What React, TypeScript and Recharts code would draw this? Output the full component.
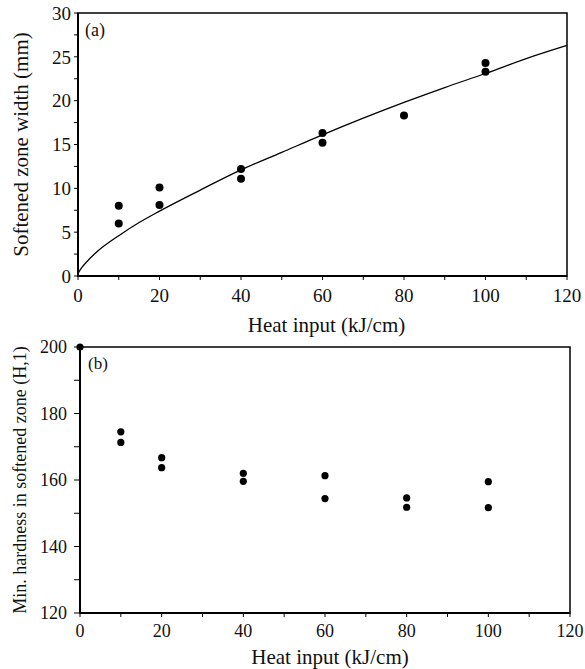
import React from "react";
import {
  ComposedChart,
  ScatterChart,
  Scatter,
  Line,
  XAxis,
  YAxis,
  ReferenceArea,
} from "recharts";

// (a) softened zone width vs heat input
const widthHeat = [10, 10, 20, 20, 40, 40, 60, 60, 80, 100, 100];
const widthMm = [8.0, 6.0, 10.1, 8.1, 12.2, 11.1, 16.3, 15.2, 18.3, 24.3, 23.3];

// fitted curve
const fitHeat = [0, 1, 2.5, 5, 10, 15, 20, 30, 40, 50, 60, 70, 80, 90, 100, 110, 120];
const fitMm = [0.3, 1.0, 1.8, 2.9, 4.6, 6.1, 7.4, 9.8, 12.1, 14.1, 16.1, 18.0, 19.8, 21.5, 23.1, 24.8, 26.3];

// (b) min. hardness vs heat input
const hardHeat = [0, 10, 10, 20, 20, 40, 40, 60, 60, 80, 80, 100, 100];
const hardHv = [200, 174.5, 171.3, 166.7, 163.7, 162.0, 159.6, 161.3, 154.4, 154.6, 151.8, 159.5, 151.7];

const heatTicks = [0, 10, 20, 30, 40, 50, 60, 70, 80, 90, 100, 110, 120];
const widthTicks = [0, 2.5, 5, 7.5, 10, 12.5, 15, 17.5, 20, 22.5, 25, 27.5, 30];
const hardTicks = [120, 130, 140, 150, 160, 170, 180, 190, 200];

const FONT = '"Liberation Serif", "Times New Roman", "DejaVu Serif", serif';
const INK = "#111";

const widthPoints = widthHeat.map((x, i) => ({ x, y: widthMm[i] }));
const fitPoints = fitHeat.map((x, i) => ({ x, y: fitMm[i] }));
const hardPoints = hardHeat.map((x, i) => ({ x, y: hardHv[i] }));

const txt = (fontSize: number) => ({ fontFamily: FONT, fontSize, fill: INK });

// only label every n-th tick, the rest are bare tick marks
function XTick(props: any) {
  const { x, y, payload, step, fontSize } = props;
  if (payload.value % step !== 0) return <g />;
  return (
    <text x={x} y={y} dy="0.71em" textAnchor="middle" style={txt(fontSize)}>
      {payload.value}
    </text>
  );
}

function YTick(props: any) {
  const { x, y, payload, step, fontSize } = props;
  if (payload.value % step !== 0) return <g />;
  return (
    <text x={x} y={y} dy="0.355em" textAnchor="end" style={txt(fontSize)}>
      {payload.value}
    </text>
  );
}

function YTitle(props: any) {
  const { viewBox, text, cx, fontSize } = props;
  const cy = viewBox.y + viewBox.height / 2;
  return (
    <text
      x={cx}
      y={cy}
      transform={`rotate(-90 ${cx} ${cy})`}
      textAnchor="middle"
      dominantBaseline="central"
      style={txt(fontSize)}
    >
      {text}
    </text>
  );
}

function XTitle(props: any) {
  const { viewBox, text, dy, dx, fontSize } = props;
  return (
    <text x={viewBox.x + viewBox.width / 2 + dx} y={viewBox.y + dy} textAnchor="middle" style={txt(fontSize)}>
      {text}
    </text>
  );
}

const dot = (r: number) => (p: any) => <circle cx={p.cx} cy={p.cy} r={r} fill="#000" />;

const axisLine = { stroke: "#000", strokeWidth: 2 };
const tickLine = { stroke: "#000", strokeWidth: 1 };

export default function App() {
  return (
    <div style={{ position: "absolute", left: 0, top: 0, width: 585, height: 669, background: "#fff" }}>
      <div style={{ position: "absolute", left: 0, top: 0 }}>
        <ComposedChart width={585} height={340} margin={{ top: 13, right: 18, left: 0, bottom: 0 }}>
          <XAxis
            dataKey="x"
            type="number"
            domain={[0, 120]}
            ticks={heatTicks}
            interval={0}
            height={64}
            tickSize={4}
            tickMargin={9}
            axisLine={axisLine}
            tickLine={tickLine}
            tick={(p: any) => <XTick {...p} step={20} fontSize={19} />}
            label={(p: any) => <XTitle {...p} text="Heat input (kJ/cm)" dy={56} dx={4} fontSize={21} />}
          />
          <YAxis
            dataKey="y"
            type="number"
            domain={[0, 30]}
            ticks={widthTicks}
            interval={0}
            width={78}
            tickSize={4}
            tickMargin={3}
            axisLine={axisLine}
            tickLine={tickLine}
            tick={(p: any) => <YTick {...p} step={5} fontSize={19} />}
            label={(p: any) => <YTitle {...p} text="Softened zone width (mm)" cx={21} fontSize={21} />}
          />
          <ReferenceArea x1={0} x2={120} y1={0} y2={30} fill="none" stroke="#000" strokeWidth={1.5} />
          <Line
            data={fitPoints}
            dataKey="y"
            type="monotone"
            stroke="#000"
            strokeWidth={1.3}
            dot={false}
            activeDot={false}
            isAnimationActive={false}
          />
          <Scatter data={widthPoints} dataKey="y" shape={dot(4)} isAnimationActive={false} />
          <text x={85} y={36} style={txt(18)}>
            (a)
          </text>
        </ComposedChart>
      </div>

      <div style={{ position: "absolute", left: 0, top: 330 }}>
        <ScatterChart width={585} height={339} margin={{ top: 17, right: 15, left: 0, bottom: 0 }}>
          <XAxis
            dataKey="x"
            type="number"
            domain={[0, 120]}
            ticks={heatTicks}
            interval={0}
            height={56}
            tickSize={4}
            tickMargin={7}
            axisLine={axisLine}
            tickLine={tickLine}
            tick={(p: any) => <XTick {...p} step={20} fontSize={18} />}
            label={(p: any) => <XTitle {...p} text="Heat input (kJ/cm)" dy={51} dx={5} fontSize={21} />}
          />
          <YAxis
            dataKey="y"
            type="number"
            domain={[120, 200]}
            ticks={hardTicks}
            interval={0}
            width={80}
            tickSize={6}
            tickMargin={7}
            axisLine={axisLine}
            tickLine={tickLine}
            tick={(p: any) => <YTick {...p} step={20} fontSize={18} />}
            label={(p: any) => <YTitle {...p} text="Min. hardness in softened zone (H,1)" cx={20} fontSize={18} />}
          />
          <ReferenceArea x1={0} x2={120} y1={120} y2={200} fill="none" stroke="#000" strokeWidth={1.5} />
          <Scatter data={hardPoints} dataKey="y" shape={dot(3.6)} isAnimationActive={false} />
          <text x={88} y={39} style={txt(17)}>
            (b)
          </text>
        </ScatterChart>
      </div>
    </div>
  );
}
